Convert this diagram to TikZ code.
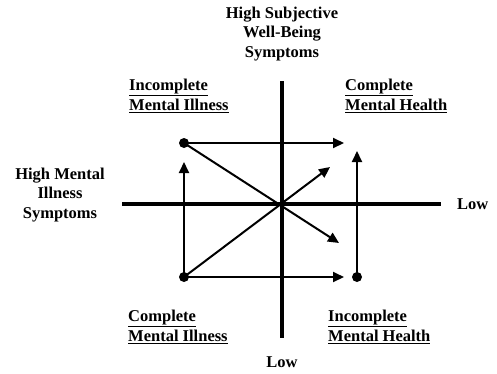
\documentclass[tikz,border=0pt]{standalone}
\usepackage{fontspec}
\setmainfont{Liberation Serif}
\usetikzlibrary{arrows.meta}
\begin{document}
\begin{tikzpicture}[x=1pt,y=-1pt,
  axis/.style={line width=3.2pt},
  arr/.style={line width=2pt,-{Triangle[length=11pt,width=10pt]}},
  dot/.style={circle,fill=black,inner sep=0pt,minimum size=10pt},
  lbl/.style={font=\bfseries\fontsize{16.5}{19.5}\selectfont,align=center,inner sep=0pt},
  qlbl/.style={font=\bfseries\fontsize{16.5}{20.5}\selectfont,align=left,inner sep=0pt,anchor=west}]
\useasboundingbox (0,0) rectangle (497,373);
% axes
\coordinate (vt) at (282,81);
\coordinate (vb) at (282,338);
\coordinate (hl) at (122,204);
\coordinate (hr) at (441,204);
\coordinate (c) at (282,204);
\draw[axis] (vt) -- (vb);
\draw[axis] (hl) -- (hr);
% dots
\node[dot] (tl) at (184,143) {};
\node[dot] (bl) at (184,277) {};
\node[dot] (br) at (357,277) {};
% arrow ends
\coordinate (tlr) at (344,143);
\coordinate (tld) at (339,243);
\coordinate (blu) at (184,162);
\coordinate (blr) at (344,277);
\coordinate (bld) at (330,167);
\coordinate (bru) at (357,151);
\draw[arr] (tl.center) -- (tlr);
\draw[arr] (tl.center) -- (tld);
\draw[arr] (bl.center) -- (blu);
\draw[arr] (bl.center) -- (blr);
\draw[arr] (bl.center) -- (bld);
\draw[arr] (br.center) -- (bru);
% labels
\node[lbl] (top) at (282,34) {High Subjective\\Well-Being\\Symptoms};
\node[lbl] (left) at (60,195) {High Mental\\Illness\\Symptoms};
\node[lbl,anchor=west] (right) at (457,204) {Low};
\node[lbl] (bottom) at (282,362) {Low};
\node[qlbl] (q1) at (129,96) {\underline{Incomplete}\\\underline{Mental Illness}};
\node[qlbl] (q2) at (345,96) {\underline{Complete}\\\underline{Mental Health}};
\node[qlbl] (q3) at (128,327) {\underline{Complete}\\\underline{Mental Illness}};
\node[qlbl] (q4) at (328,327) {\underline{Incomplete}\\\underline{Mental Health}};
\end{tikzpicture}
\end{document}
